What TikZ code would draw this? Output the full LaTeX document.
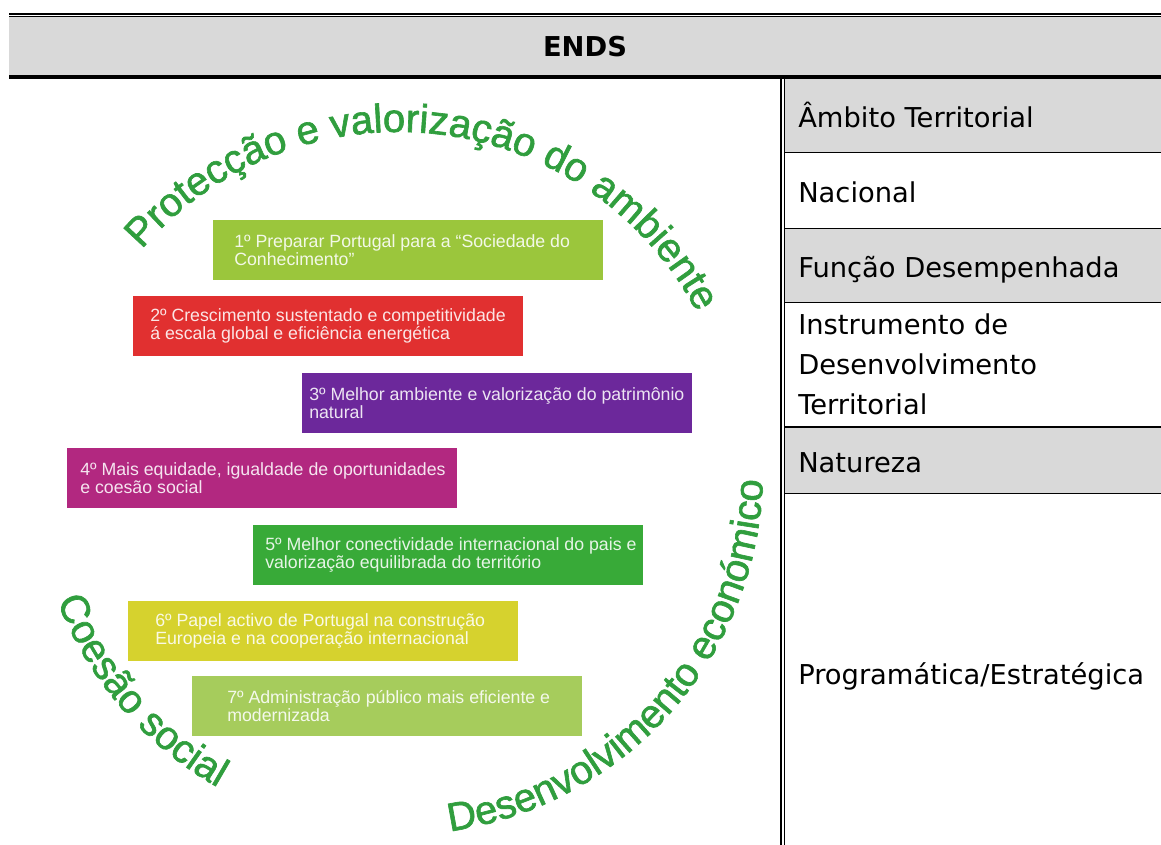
\documentclass[tikz,border=0pt]{standalone}
\usepackage{fontspec}
\usepackage{tikz}
\usetikzlibrary{positioning,decorations.text}
\setmainfont{DejaVu Sans}
\newfontfamily\barfont{Liberation Sans}
\newfontfamily\arcfont{Liberation Sans}[FakeBold=1.6]
\definecolor{endsgray}{RGB}{217,217,217}
\definecolor{endsgreen}{RGB}{48,158,62}
\definecolor{eixolime}{RGB}{155,198,60}
\definecolor{eixored}{RGB}{225,48,48}
\definecolor{eixopurple}{RGB}{108,40,155}
\definecolor{eixomagenta}{RGB}{178,40,128}
\definecolor{eixogreen}{RGB}{56,170,56}
\definecolor{eixoyellow}{RGB}{214,210,46}
\definecolor{eixolight}{RGB}{166,204,92}
\newcommand{\arcstyle}{\arcfont\fontsize{30}{36}\selectfont\color{endsgreen}}

\begin{document}
\begin{tikzpicture}[x=0.75pt, y=0.75pt,
    eixo/.style={rectangle, anchor=north west, minimum width=292.5pt, minimum height=45pt, inner sep=0pt},
    eixotxt/.style={inner sep=0pt, align=left, text=white, text opacity=0.88, font=\barfont\fontsize{13.3}{13.5}\selectfont},
    cell/.style={anchor=base west, inner sep=0pt, font=\fontsize{20.5}{30}\selectfont},
    arctxt/.style={decorate, decoration={text along path, text align=center, text={#1}}},
    rule/.style={line width=1.4pt}]

    \fill[white] (0,0) rectangle (1161,845);
    \useasboundingbox (0,0) rectangle (1161,845);

    % header
    \fill[endsgray] (9,770) rectangle (1161,828.3);
    \draw[line width=1.7pt] (9,831.2) -- (1161,831.2);
    \draw[line width=0.75pt] (9,828.7) -- (1161,828.7);
    \draw[line width=3pt] (9,768) -- (1161,768);
    \node[font=\bfseries\fontsize{20.5}{24}\selectfont] (ends) at (585,798) {ENDS};

    % right column
    \fill[endsgray] (784.6,692.5) rectangle (1161,766);
    \fill[endsgray] (784.6,542.5) rectangle (1161,616.5);
    \fill[endsgray] (784.6,351.5) rectangle (1161,418.2);
    \draw[rule] (784.6,692.5) -- (1161,692.5);
    \draw[rule] (784.6,616.5) -- (1161,616.5);
    \draw[rule] (784.6,542.5) -- (1161,542.5);
    \draw[rule] (784.6,418.2) -- (1161,418.2);
    \draw[rule] (784.6,351.5) -- (1161,351.5);
    \draw[line width=1.9pt] (781.2,766) -- (781.2,0);
    \draw[line width=0.9pt] (784.1,766) -- (784.1,0);

    \node[cell] (ambito) at (798,717) {Âmbito Territorial};
    \node[cell] (nacional) at (798,642) {Nacional};
    \node[cell] (funcao) at (798,567) {Função Desempenhada};
    \node[cell, anchor=west, align=left] (instrumento) at (798,480.5) {Instrumento de\\Desenvolvimento\\Territorial};
    \node[cell] (natureza) at (798,372) {Natureza};
    \node[cell] (programatica) at (798,160) {Programática/Estratégica};

    % the seven bars
    \node[eixo, fill=eixolime] (eixo1) at (213,625) {};
    \node[eixo, fill=eixored] (eixo2) at (133,549) {};
    \node[eixo, fill=eixopurple] (eixo3) at (302,472) {};
    \node[eixo, fill=eixomagenta] (eixo4) at (67,397) {};
    \node[eixo, fill=eixogreen] (eixo5) at (253,320) {};
    \node[eixo, fill=eixoyellow] (eixo6) at (128,244) {};
    \node[eixo, fill=eixolight] (eixo7) at (192,169) {};

    \node[eixotxt, right=15.75pt of eixo1.west] (eixo1txt) {1º Preparar Portugal para a “Sociedade do\\Conhecimento”};
    \node[eixotxt, right=12.75pt of eixo2.west] (eixo2txt) {2º Crescimento sustentado e competitividade\\á escala global e eficiência energética};
    \node[eixotxt, right=5.25pt of eixo3.west] (eixo3txt) {3º Melhor ambiente e valorização do patrimônio\\natural};
    \node[eixotxt, right=9.75pt of eixo4.west] (eixo4txt) {4º Mais equidade, igualdade de oportunidades\\e coesão social};
    \node[eixotxt, right=9pt of eixo5.west] (eixo5txt) {5º Melhor conectividade internacional do pais e\\valorização equilibrada do território};
    \node[eixotxt, right=20.25pt of eixo6.west] (eixo6txt) {6º Papel activo de Portugal na construção\\Europeia e na cooperação internacional};
    \node[eixotxt, right=26.25pt of eixo7.west] (eixo7txt) {7º Administração público mais eficiente e\\modernizada};

    % curved titles
    \path[arctxt={|\arcstyle|Protecção e valorização do ambiente}, shift={(398,375)}] (150:253.5pt) arc[start angle=150, end angle=17, radius=253.5pt];
    \path[arctxt={|\arcstyle|Coesão social}, shift={(398,375)}] (190:273.75pt) arc[start angle=190, end angle=251.4, radius=273.75pt];
    \path[arctxt={|\arcstyle|Desenvolvimento económico}, shift={(398,375)}] (270:273.75pt) arc[start angle=270, end angle=366.6, radius=273.75pt];
\end{tikzpicture}
\end{document}
